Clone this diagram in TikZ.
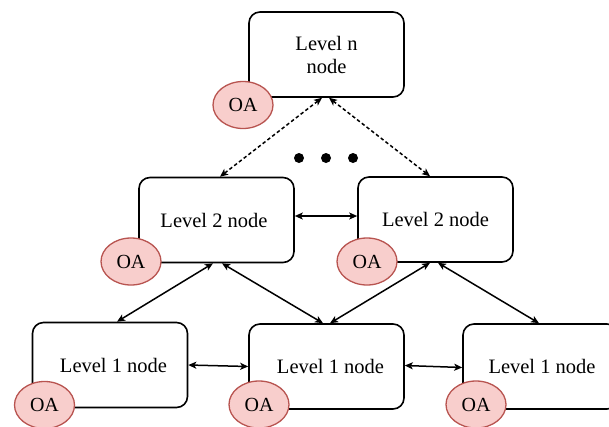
\documentclass[tikz,border=0pt]{standalone}
\usepackage{fontspec}
\setmainfont{Liberation Serif}
\usetikzlibrary{arrows.meta,calc,shapes.geometric}
\definecolor{oafill}{HTML}{F8CECC}
\definecolor{oadraw}{HTML}{B85450}
\tikzset{
  lvbox/.style={draw=black, line width=1.6pt, rounded corners=11pt, fill=white,
    minimum width=155pt, minimum height=85pt, inner sep=0pt, align=center,
    font=\fontsize{20.5}{23}\selectfont},
  oa/.style={ellipse, draw=oadraw, line width=1.3pt, fill=oafill,
    minimum width=60pt, minimum height=47pt, inner sep=0pt,
    font=\fontsize{20}{22}\selectfont},
  link/.style={line width=1.5pt, {Stealth[length=8pt,width=7pt,inset=2pt]}-{Stealth[length=8pt,width=7pt,inset=2pt]}},
  dlink/.style={link, dash pattern=on 3.5pt off 2.5pt},
  bigdot/.style={circle, fill=black, minimum size=10pt, inner sep=0pt}
}
\begin{document}
\begin{tikzpicture}[x=1pt,y=-1pt]
\useasboundingbox (0,0) rectangle (609,426);
% boxes
\node[lvbox] (top) at (326.5,54.5) {Level n\\node};
\node[lvbox] (L2a) at (216.5,220) {\hspace*{-5pt}Level 2 node};
\node[lvbox] (L2b) at (435.5,219.5) {Level 2 node};
\node[lvbox] (L1a) at (110,365) {\hspace*{7pt}Level 1 node};
\node[lvbox] (L1b) at (326.5,366.5) {\hspace*{8pt}Level 1 node};
\node[lvbox] (L1c) at (540.5,366.5) {\hspace*{3pt}Level 1 node};
% OA ellipses
\node[oa] (oat) at (243,105) {OA};
\node[oa] (oa2a) at (131,261.5) {OA};
\node[oa] (oa2b) at (367,261.5) {OA};
\node[oa] (oa1a) at (44.5,405) {OA};
\node[oa] (oa1b) at (259,404.5) {OA};
\node[oa] (oa1c) at (476,404.5) {OA};
% dots
\node[bigdot] (d1) at (299,158) {};
\node[bigdot] (d2) at (326,158) {};
\node[bigdot] (d3) at (353,158) {};
% dotted links
\draw[dlink] ([xshift=-4.5pt]top.south) -- ([xshift=3.5pt]L2a.north);
\draw[dlink] ([xshift=2.5pt]top.south) -- ([xshift=-5.5pt]L2b.north);
% level 2 horizontal
\draw[link] ([yshift=4pt]L2a.east) -- ([yshift=3.5pt]L2b.west);
% level 2 to level 1
\draw[link] ([xshift=-3.5pt]L2a.south) -- ([xshift=7pt]L1a.north);
\draw[link] ([xshift=5.5pt]L2a.south) -- ([xshift=-3.5pt]L1b.north);
\draw[link] ([xshift=-5.5pt]L2b.south) -- ([xshift=3.5pt]L1b.north);
\draw[link] ([xshift=2.5pt]L2b.south) -- ([xshift=-1.5pt]L1c.north);
% level 1 horizontal
\draw[link] (L1a.east) -- (L1b.west);
\draw[link] ([yshift=1pt]L1b.east) -- ([yshift=-1pt]L1c.west);
\end{tikzpicture}
\end{document}
